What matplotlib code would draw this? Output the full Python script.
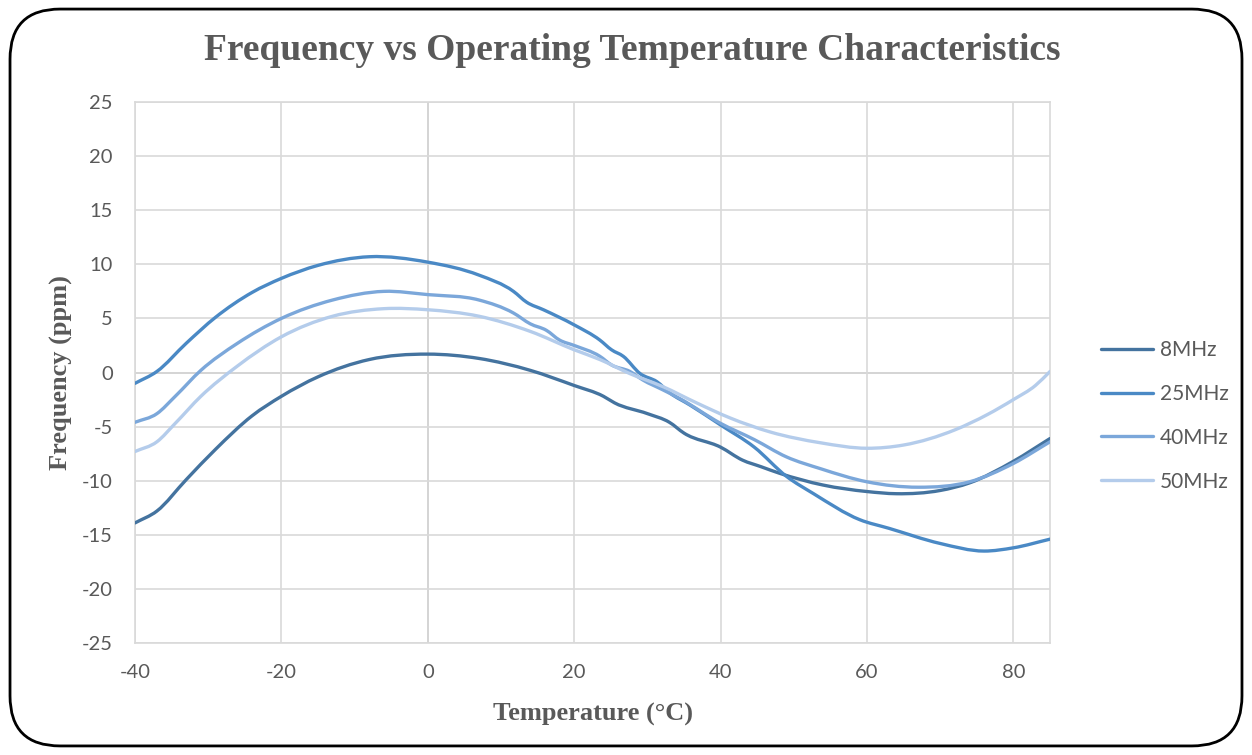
import numpy as np
import matplotlib.pyplot as plt
from matplotlib.patches import FancyBboxPatch, PathPatch
from matplotlib.path import Path
from matplotlib.lines import Line2D

# values (temperature in degC, frequency in ppm)
t_8 = [-40, -37, -33, -29, -24, -20, -15, -8, 0, 7, 14, 20, 24, 25.5, 30, 33, 35, 40, 43, 45.5,
       48, 54, 60, 64, 70, 74, 80, 85]
f_8 = [-13.9, -12.8, -9.9, -7.1, -4.0, -2.2, -0.4, 1.2, 1.7, 1.3, 0.2, -1.2, -2.2, -2.8, -3.8,
       -4.6, -5.6, -6.9, -8.1, -8.7, -9.3, -10.4, -11.0, -11.2, -10.9, -10.2, -8.2, -6.1]

t_25 = [-40, -37, -33, -29, -24, -20, -15, -8, 0, 7, 11.7, 13.5, 15.8, 20, 23.5, 25.1, 26.7, 29,
        31.3, 33.1, 35.8, 40, 44.6, 49, 52.7, 59, 63, 70, 76, 80, 85]
f_25 = [-1.0, 0.1, 2.7, 5.1, 7.4, 8.7, 9.9, 10.7, 10.2, 9.0, 7.5, 6.5, 5.8, 4.4, 3.0, 2.1, 1.5,
        -0.1, -0.85, -1.9, -3.0, -4.85, -6.9, -9.6, -11.2, -13.6, -14.4, -15.8, -16.5, -16.2, -15.4]

t_40 = [-40, -37, -34.5, -31, -26, -20, -13, -6, 0, 7, 11.7, 14, 16.2, 18, 20, 23.5, 25.1, 27.6,
        29.4, 32.1, 34.4, 40, 44.6, 49, 53.7, 60, 67, 74, 80, 85]
f_40 = [-4.6, -3.8, -2.2, 0.2, 2.7, 5.0, 6.7, 7.5, 7.2, 6.7, 5.5, 4.5, 3.9, 3.0, 2.5, 1.5, 0.7,
        0.1, -0.7, -1.6, -2.4, -4.7, -6.2, -7.8, -8.9, -10.1, -10.6, -10.1, -8.4, -6.4]

t_50 = [-40, -37, -34.5, -31, -26, -20, -13, -6, 0, 7, 14, 20, 23.5, 27.6, 32.1, 36.7, 41.3, 46.8,
        53.7, 60, 65, 72, 76.4, 80, 83, 85]
f_50 = [-7.3, -6.4, -4.7, -2.2, 0.6, 3.3, 5.2, 5.9, 5.8, 5.2, 3.8, 2.1, 1.2, -0.1, -1.3, -2.8,
        -4.2, -5.5, -6.5, -7.0, -6.7, -5.3, -3.9, -2.5, -1.2, 0.1]

series = [("8MHz", t_8, f_8, "#44739f"),
          ("25MHz", t_25, f_25, "#4a89c5"),
          ("40MHz", t_40, f_40, "#7ba7da"),
          ("50MHz", t_50, f_50, "#b4cceb")]


def smooth_path(x, y):
    # cubic bezier through the points (hermite tangents), like excel's "smoothed line"
    x = np.asarray(x, float)
    y = np.asarray(y, float)
    h = np.diff(x)
    d = np.diff(y) / h
    m = np.empty_like(y)
    m[0], m[-1] = d[0], d[-1]
    m[1:-1] = (d[:-1] * h[1:] + d[1:] * h[:-1]) / (h[:-1] + h[1:])
    verts = [(x[0], y[0])]
    codes = [Path.MOVETO]
    for i in range(len(x) - 1):
        verts += [(x[i] + h[i] / 3, y[i] + m[i] * h[i] / 3),
                  (x[i + 1] - h[i] / 3, y[i + 1] - m[i + 1] * h[i] / 3),
                  (x[i + 1], y[i + 1])]
        codes += [Path.CURVE4] * 3
    return Path(verts, codes)


plt.rcParams["font.family"] = ["Lato", "DejaVu Sans"]
plt.rcParams["axes.unicode_minus"] = False
grey = "#595959"

fig = plt.figure(figsize=(12.52, 7.55), dpi=100)
ax = fig.add_axes([0.1078, 0.1483, 0.7309, 0.7166])

handles = []
for name, t, f, c in series:
    ax.add_patch(PathPatch(smooth_path(t, f), fill=False, ec=c, lw=2.4,
                           capstyle="round", joinstyle="round", zorder=3))
    handles.append(Line2D([], [], color=c, lw=2.4, solid_capstyle="round", label=name))

ax.set_xlim(-40, 85)
ax.set_ylim(-25, 25)
ax.set_xticks(range(-40, 81, 20))
ax.set_yticks(range(-25, 26, 5))
ax.grid(True, color="#d9d9d9", lw=1.2, zorder=0)
ax.axhline(0, color="#bfbfbf", lw=1.3, zorder=1)
ax.axvline(0, color="#bfbfbf", lw=1.3, zorder=1)
for s in ax.spines.values():
    s.set_color("#d9d9d9")
    s.set_linewidth(1.2)
ax.tick_params(which="both", length=0, labelsize=14.5, labelcolor=grey)
ax.tick_params(axis="x", pad=15)
ax.tick_params(axis="y", pad=16)

ax.set_xlabel("Temperature (°C)", family="Liberation Serif", weight="bold",
              fontsize=19, color=grey, labelpad=16)
ax.set_ylabel("Frequency (ppm)", family="Liberation Serif", weight="bold",
              fontsize=19, color=grey, labelpad=6)
fig.text(0.505, 0.933, "Frequency vs Operating Temperature Characteristics",
         family="Liberation Serif", weight="bold", fontsize=27, color=grey,
         ha="center", va="center")

leg = ax.legend(handles=handles, loc="center left", bbox_to_anchor=(1.035, 0.42),
                frameon=False, fontsize=15, labelspacing=1.15, handlelength=2.5,
                handletextpad=0.35)
for txt in leg.get_texts():
    txt.set_color(grey)

border = FancyBboxPatch((0.008, 0.012), 0.984, 0.976, boxstyle="round,pad=0,rounding_size=0.04",
                        transform=fig.transFigure, fill=False, ec="black", lw=2,
                        mutation_aspect=12.52 / 7.55)
fig.patches.append(border)

fig.savefig("out.png", dpi=100)
